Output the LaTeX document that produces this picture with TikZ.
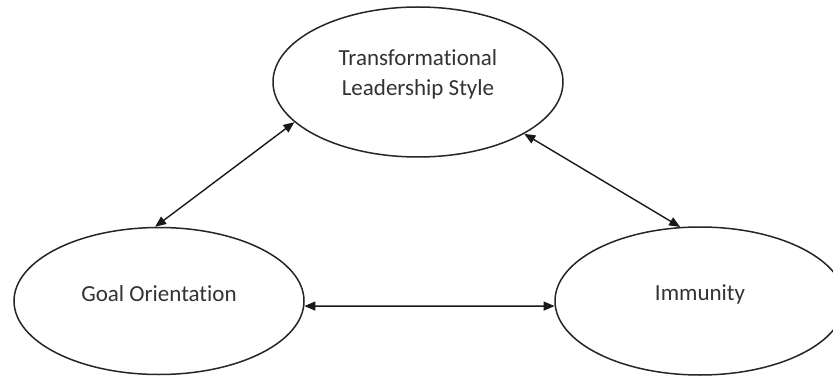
\documentclass[tikz,border=0pt]{standalone}
\usepackage{fontspec}
\setmainfont{Carlito}[Ligatures={NoCommon,NoContextual}]
\usetikzlibrary{shapes.geometric,arrows.meta}
\begin{document}
\begin{tikzpicture}[x=1pt,y=-1pt,
  oval/.style={draw=black!85, line width=1.5pt, ellipse, minimum width=290pt, minimum height=150pt, inner sep=0pt},
  lbl/.style={font=\fontsize{23}{30}\selectfont, text=black!80, align=center},
  link/.style={{Triangle[length=11pt,width=9pt]}-{Triangle[length=11pt,width=9pt]}, line width=1.4pt, draw=black!90}]
\clip (0,0) rectangle (833,377);
\fill[white] (0,0) rectangle (833,377);
\node[oval] (tls) at (418,82) {};
\node[oval, minimum height=147pt] (go) at (159,301) {};
\node[oval, minimum height=148pt] (im) at (700,301) {};
\node[lbl] (tlst) at (418,74) {Transformational\\Leadership Style};
\node[lbl] (got) at (159,294) {Goal Orientation};
\node[lbl] (imt) at (700,294) {Immunity};
\draw[link] (tls.198) -- (go.93);
\draw[link] (tls.334) -- (im.105);
\draw[link] (go.358) -- (im.182);
\end{tikzpicture}
\end{document}
